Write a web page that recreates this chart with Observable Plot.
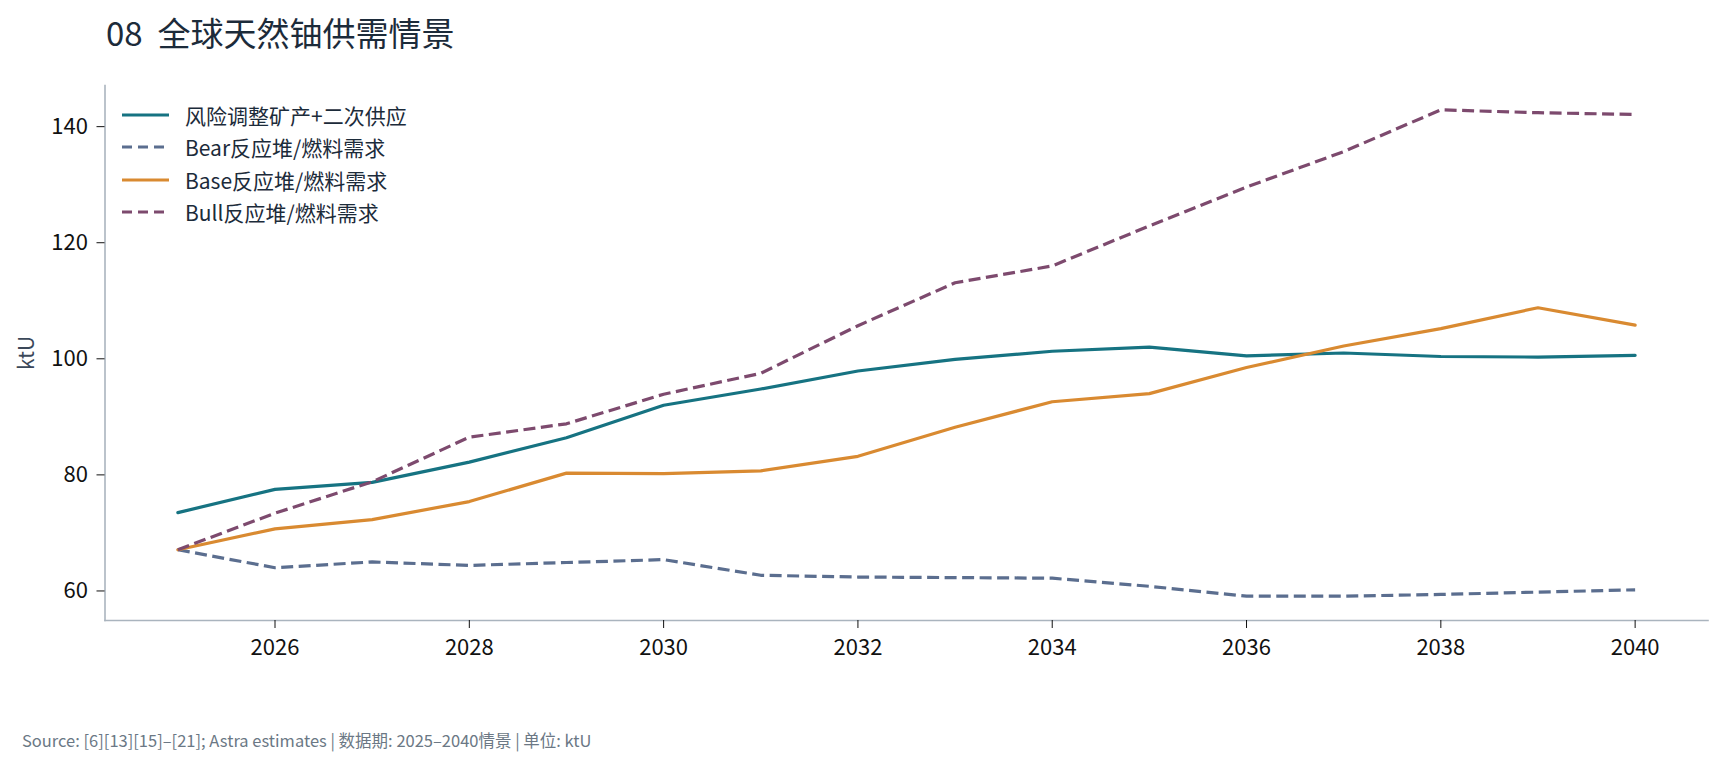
<!DOCTYPE html>
<html>
<head>
<meta charset="utf-8">
<script src="https://cdn.jsdelivr.net/npm/d3@7"></script>
<script src="https://cdn.jsdelivr.net/npm/@observablehq/plot@0.6"></script>
<style>
  html, body { margin: 0; padding: 0; background: #fff; }
  body { width: 1725px; height: 768px; position: relative; font-family: "Noto Sans CJK SC", "Noto Sans", sans-serif; overflow: hidden; }
  #title { height: 64px; line-height: 64px; padding-left: 106px; font-size: 33px; color: #1c2b3a; white-space: pre; }
  #chart { position: relative; height: 640px; }
  #caption { padding-left: 22px; padding-top: 25px; font-size: 16.5px; line-height: 22px; color: #6b7885; }
  #legend { position: absolute; left: 122px; top: 35px; }
  .row { display: flex; align-items: center; height: 32.3px; }
  .row svg { width: 47px; height: 10px; margin-right: 16px; }
  .row span { font-size: 21px; color: #1c2b3a; }
</style>
</head>
<body>
<div id="title"></div>
<div id="chart"><div id="legend"></div></div>
<div id="caption"></div>
<script>
const titleText = "08  全球天然铀供需情景";
const captionText = "Source: [6][13][15]–[21]; Astra estimates | 数据期: 2025–2040情景 | 单位: ktU";
const yLabel = "ktU";

const years = [2025, 2026, 2027, 2028, 2029, 2030, 2031, 2032, 2033, 2034, 2035, 2036, 2037, 2038, 2039, 2040];
const supply = [73.5, 77.5, 78.7, 82.2, 86.4, 92.0, 94.8, 97.9, 99.9, 101.3, 102.0, 100.5, 101.0, 100.4, 100.3, 100.6];
const bear   = [67.1, 64.0, 65.0, 64.4, 64.9, 65.4, 62.7, 62.4, 62.3, 62.2, 60.8, 59.1, 59.1, 59.4, 59.8, 60.2];
const base   = [67.1, 70.7, 72.3, 75.4, 80.3, 80.2, 80.7, 83.2, 88.2, 92.6, 94.0, 98.5, 102.2, 105.2, 108.8, 105.8];
const bull   = [67.1, 73.4, 78.8, 86.5, 88.8, 93.9, 97.5, 105.7, 113.1, 116.0, 122.9, 129.6, 135.7, 142.9, 142.4, 142.1];

const seriesNames  = ["风险调整矿产+二次供应", "Bear反应堆/燃料需求", "Base反应堆/燃料需求", "Bull反应堆/燃料需求"];
const seriesValues = [supply, bear, base, bull];
const seriesColors = ["#167382", "#5b6e8f", "#d98a31", "#7d4a6e"];
const seriesDash   = [null, "12,5.5", null, "12,5.5"];

const xTicks = [2026, 2028, 2030, 2032, 2034, 2036, 2038, 2040];
const yTicks = [60, 80, 100, 120, 140];

document.getElementById("title").textContent = titleText;
document.getElementById("caption").textContent = captionText;

// tidy table
const rows = [];
seriesNames.forEach((name, i) => {
  years.forEach((yr, j) => rows.push({ series: name, year: yr, value: seriesValues[i][j] }));
});

// matplotlib-like 5% margins
const xExt = d3.extent(years);
const xPad = (xExt[1] - xExt[0]) * 0.05;
const allVals = seriesValues.flat();
const yExt = d3.extent(allVals);
const yPad = (yExt[1] - yExt[0]) * 0.05;

const spine = "#aab4be";

const marks = [];
seriesNames.forEach((name, i) => {
  marks.push(Plot.line(rows.filter(r => r.series === name), {
    x: "year", y: "value",
    stroke: seriesColors[i],
    strokeWidth: 3.2,
    strokeDasharray: seriesDash[i] || undefined,
    strokeLinejoin: "round",
    strokeLinecap: seriesDash[i] ? "butt" : "round"
  }));
});

const chart = Plot.plot({
  width: 1725,
  height: 640,
  marginTop: 21,
  marginBottom: 84,
  marginLeft: 104.5,
  marginRight: 17.5,
  style: { fontFamily: "'Noto Sans CJK SC', 'Noto Sans', sans-serif", background: "#fff", overflow: "visible" },
  x: { domain: [xExt[0] - xPad, xExt[1] + xPad] },
  y: { domain: [yExt[0] - yPad, yExt[1] + yPad] },
  marks: [
    Plot.frame({ anchor: "left", stroke: spine, strokeWidth: 1.6 }),
    Plot.frame({ anchor: "bottom", stroke: spine, strokeWidth: 1.6 }),
    Plot.axisX({ ticks: xTicks, tickFormat: d => String(d), tickSize: 8, tickPadding: 11, fontSize: 22, fill: "#111", stroke: "#111", label: null }),
    Plot.axisY({ ticks: yTicks, tickSize: 8, tickPadding: 9, fontSize: 22, fill: "#111", stroke: "#111", label: null }),
    Plot.axisY({ ticks: [], label: yLabel, labelAnchor: "center", labelArrow: "none", labelOffset: 86, fontSize: 21, color: "#3b4859", tickSize: 0 }),
    ...marks
  ]
});
document.getElementById("chart").prepend(chart);

// legend
const legend = document.getElementById("legend");
seriesNames.forEach((name, i) => {
  const row = document.createElement("div");
  row.className = "row";
  const dash = seriesDash[i] ? `stroke-dasharray="10,6"` : "";
  row.innerHTML = `<svg viewBox="0 0 47 10"><line x1="0" x2="47" y1="5" y2="5" stroke="${seriesColors[i]}" stroke-width="3.2" ${dash}/></svg><span></span>`;
  row.querySelector("span").textContent = name;
  legend.appendChild(row);
});
</script>
</body>
</html>
